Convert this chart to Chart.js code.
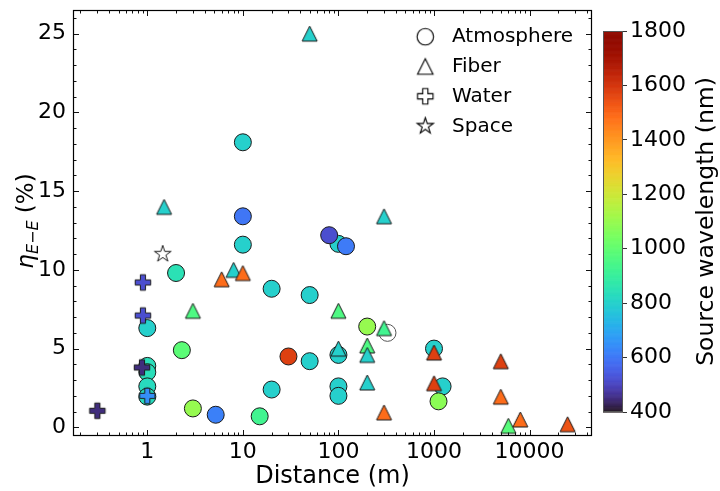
<!DOCTYPE html>
<html><head><meta charset="utf-8">
<script src="https://cdn.jsdelivr.net/npm/chart.js@4/dist/chart.umd.min.js"></script>
<style>
html,body{margin:0;padding:0;background:#fff;}
#wrap{position:relative;width:720px;height:491px;overflow:hidden;}
#main{position:absolute;left:0;top:0;}
#cbar{position:absolute;left:590px;top:0;}
</style></head><body>
<div id="wrap">
<canvas id="main" width="720" height="491"></canvas>
<canvas id="cbar" width="130" height="491"></canvas>
</div>
<script>
// ---------------- data ----------------
const atmDist = [10, 10, 10, 100, 80, 120, 2, 1, 20, 50, 2.3, 1, 1, 1, 1, 3, 5.2, 15, 20, 30, 50, 100, 100, 100, 200, 326, 1000, 1230, 1115];
const atmEff  = [18.1, 13.4, 11.6, 11.65, 12.2, 11.5, 9.8, 6.3, 8.8, 8.4, 4.9, 3.9, 3.5, 2.6, 1.95, 1.2, 0.8, 0.7, 2.4, 4.5, 4.2, 4.6, 2.6, 2.0, 6.4, 6.0, 5.0, 2.6, 1.65];
const atmWl   = [800, 600, 800, 800, 520, 610, 850, 800, 800, 800, 990, 840, 840, 830, 830, 1100, 620, 930, 800, 1580, 800, 800, 800, 800, 1100, null, 800, 800, 1080];

const fibDist = [50, 1.5, 300, 8, 6, 10, 3, 100, 300, 100, 200, 200, 200, 300, 1000, 1000, 5000, 5000, 6000, 8000, 25000];
const fibEff  = [25, 14, 13.4, 10.0, 9.4, 9.8, 7.4, 7.4, 6.3, 5.0, 5.2, 4.6, 2.85, 0.95, 4.75, 2.8, 4.2, 1.95, 0.1, 0.5, 0.2];
const fibWl   = [800, 800, 800, 800, 1490, 1490, 960, 960, 930, 800, 960, 800, 800, 1490, 1580, 1580, 1580, 1490, 980, 1490, 1540];

const watDist = [0.9, 0.9, 0.88, 1, 0.3];
const watEff  = [9.2, 7.1, 3.8, 2.0, 1.05];
const watWl   = [520, 520, 450, 650, 450];

const spaDist = [1.45];
const spaEff  = [11.0];
const spaWl   = [null];

const seriesLabels = ['Atmosphere', 'Fiber', 'Water', 'Space'];
const xTickValues = [1, 10, 100, 1000, 10000];
const xTickLabels = ['1', '10', '100', '1000', '10000'];
const yTickValues = [0, 5, 10, 15, 20, 25];
const cbarTickValues = [400, 600, 800, 1000, 1200, 1400, 1600, 1800];
const xTitle = 'Distance (m)';
const cbarTitle = 'Source wavelength (nm)';
const wlMin = 400, wlMax = 1800;
const xMin = 0.167, xMax = 45000, yMin = -0.55, yMax = 26.5;

// ---------------- helpers ----------------
const FAM = '"DejaVu Sans", "Liberation Sans", sans-serif';
function turbo(t){
  t = Math.min(1, Math.max(0, t));
  const r = 0.13572138 + t*(4.61539260 + t*(-42.66032258 + t*(132.13108234 + t*(-152.94239396 + t*59.28637943))));
  const g = 0.09140261 + t*(2.19418839 + t*(4.84296658 + t*(-14.18503333 + t*(4.27729857 + t*2.82956604))));
  const b = 0.10667330 + t*(12.64194608 + t*(-60.58204836 + t*(110.36276771 + t*(-89.90310912 + t*27.34824973))));
  const c = v => Math.round(255*Math.min(1, Math.max(0, v)));
  return 'rgb(' + c(r) + ',' + c(g) + ',' + c(b) + ')';
}
function wlColor(w){ return w == null ? 'rgba(255,255,255,0)' : turbo((w - wlMin)/(wlMax - wlMin)); }
function pts(xs, ys){ return xs.map((x, i) => ({x: x, y: ys[i]})); }

function tracePath(g, shape, cx, cy, size){
  const h = size/2;
  g.beginPath();
  if (shape === 'circle') {
    g.arc(cx, cy, h, 0, Math.PI*2);
  } else if (shape === 'triangle') {
    g.moveTo(cx, cy - h); g.lineTo(cx + h, cy + h); g.lineTo(cx - h, cy + h); g.closePath();
  } else if (shape === 'plus') {
    const a = h/3;
    const p = [[-a,-h],[a,-h],[a,-a],[h,-a],[h,a],[a,a],[a,h],[-a,h],[-a,a],[-h,a],[-h,-a],[-a,-a]];
    g.moveTo(cx + p[0][0], cy + p[0][1]);
    for (let i = 1; i < p.length; i++) g.lineTo(cx + p[i][0], cy + p[i][1]);
    g.closePath();
  } else if (shape === 'star') {
    const R = h, r = h*0.381966;
    for (let i = 0; i < 10; i++) {
      const ang = -Math.PI/2 + i*Math.PI/5;
      const rr = i % 2 === 0 ? R : r;
      const px = cx + rr*Math.cos(ang), py = cy + rr*Math.sin(ang);
      if (i === 0) g.moveTo(px, py); else g.lineTo(px, py);
    }
    g.closePath();
  }
}
const cache = {};
function marker(shape, fill, size, stroke, lw){
  stroke = stroke || '#1a1a1a'; lw = lw || 1;
  const key = [shape, fill, size, stroke, lw].join('|');
  if (cache[key]) return cache[key];
  const S = Math.ceil(size + 4);
  const c = document.createElement('canvas');
  c.width = S; c.height = S;
  const g = c.getContext('2d');
  tracePath(g, shape, S/2, S/2, size);
  g.fillStyle = fill; g.fill();
  g.lineWidth = lw; g.strokeStyle = stroke; g.lineJoin = 'miter'; g.stroke();
  cache[key] = c;
  return c;
}

// ---------------- plugins ----------------
const frameTicks = {
  id: 'frameTicks',
  afterDatasetsDraw(chart){
    const {ctx, chartArea: a, scales: {x, y}} = chart;
    ctx.save();
    ctx.strokeStyle = '#111';
    ctx.lineWidth = 1;
    ctx.beginPath();
    const majL = 6, minL = 3.5;
    const vx = (v, len) => {
      const px = Math.round(x.getPixelForValue(v)) + 0.5;
      ctx.moveTo(px, a.bottom); ctx.lineTo(px, a.bottom - len);
      ctx.moveTo(px, a.top); ctx.lineTo(px, a.top + len);
    };
    const vy = (v, len) => {
      const py = Math.round(y.getPixelForValue(v)) + 0.5;
      ctx.moveTo(a.left, py); ctx.lineTo(a.left + len, py);
      ctx.moveTo(a.right, py); ctx.lineTo(a.right - len, py);
    };
    for (let k = -1; k <= 4; k++) {
      for (let m = 1; m <= 9; m++) {
        const v = m*Math.pow(10, k);
        if (v < xMin || v > xMax) continue;
        vx(v, m === 1 ? majL : minL);
      }
    }
    for (let v = 0; v <= yMax; v++) vy(v, v % 5 === 0 ? majL : minL);
    ctx.stroke();
    ctx.lineWidth = 1.2;
    ctx.strokeStyle = '#000';
    ctx.strokeRect(a.left + 0.5, a.top + 0.5, a.right - a.left - 1, a.bottom - a.top - 1);
    ctx.restore();
  }
};

const legendShapes = ['circle', 'triangle', 'plus', 'star'];
const legendSizes = [16.5, 15.5, 15.5, 17];
const customLegend = {
  id: 'customLegend',
  afterDraw(chart){
    const ctx = chart.ctx;
    ctx.save();
    ctx.font = '20px ' + FAM;
    ctx.fillStyle = '#000';
    ctx.textBaseline = 'middle';
    ctx.textAlign = 'left';
    chart.data.datasets.forEach((ds, i) => {
      const yy = 36.7 + 29.8*i;
      const m = marker(legendShapes[i], '#fff', legendSizes[i], '#000', 1.1);
      ctx.drawImage(m, 425.3 - m.width/2, yy - m.height/2);
      ctx.fillText(ds.label, 452, yy + 0.5);
    });
    ctx.restore();
  }
};

const yTitle = {
  id: 'yTitle',
  afterDraw(chart){
    const ctx = chart.ctx;
    const fs = 23, sub = 16;
    const parts = [
      {t: 'η', f: 'italic ' + fs + 'px ' + FAM, dy: 0},
      {t: 'E', f: 'italic ' + sub + 'px ' + FAM, dy: 4.5},
      {t: '−', f: sub + 'px ' + FAM, dy: 4.5},
      {t: 'E', f: 'italic ' + sub + 'px ' + FAM, dy: 4.5},
      {t: ' (%)', f: fs + 'px ' + FAM, dy: 0}
    ];
    ctx.save();
    let total = 0;
    parts.forEach(p => { ctx.font = p.f; p.w = ctx.measureText(p.t).width; total += p.w; });
    ctx.translate(33, 221);
    ctx.rotate(-Math.PI/2);
    ctx.fillStyle = '#000';
    ctx.textBaseline = 'alphabetic';
    ctx.textAlign = 'left';
    let xx = -total/2;
    parts.forEach(p => { ctx.font = p.f; ctx.fillText(p.t, xx, p.dy); xx += p.w; });
    ctx.restore();
  }
};

// ---------------- main chart ----------------
new Chart(document.getElementById('main'), {
  type: 'scatter',
  data: {
    datasets: [
      {label: seriesLabels[0], data: pts(atmDist, atmEff), order: 4,
       pointStyle: 'circle', pointRadius: 8.5,
       backgroundColor: atmWl.map(wlColor),
       borderColor: atmWl.map(w => w == null ? '#555' : '#1a1a1a'),
       borderWidth: 1},
      {label: seriesLabels[1], data: pts(fibDist, fibEff), order: 3, pointRadius: 8,
       pointStyle: fibWl.map(w => marker('triangle', wlColor(w), 15))},
      {label: seriesLabels[2], data: pts(watDist, watEff), order: 2, pointRadius: 8,
       pointStyle: watWl.map(w => marker('plus', wlColor(w), 15.5))},
      {label: seriesLabels[3], data: pts(spaDist, spaEff), order: 1, pointRadius: 8,
       pointStyle: spaWl.map(w => marker('star', w == null ? '#fff' : wlColor(w), 17.5))}
    ]
  },
  options: {
    responsive: false, animation: false, devicePixelRatio: 1, events: [],
    layout: {padding: {left: 0, top: 10, right: 128, bottom: 0}},
    plugins: {legend: {display: false}, tooltip: {enabled: false}},
    scales: {
      x: {
        type: 'logarithmic', min: xMin, max: xMax, bounds: 'data',
        afterBuildTicks: s => { s.ticks = xTickValues.map(v => ({value: v})); },
        afterFit: s => { s.height = 55; s.paddingLeft = 0; s.paddingRight = 0; },
        ticks: {
          callback: v => { const i = xTickValues.indexOf(v); return i >= 0 ? xTickLabels[i] : ''; },
          font: {family: FAM, size: 22}, color: '#000', padding: 3, maxRotation: 0, autoSkip: false
        },
        grid: {display: false, drawTicks: false}, border: {display: false},
        title: {display: true, text: xTitle, font: {family: FAM, size: 24}, color: '#000', padding: {top: 0, bottom: 0}}
      },
      y: {
        type: 'linear', min: yMin, max: yMax, bounds: 'data',
        afterBuildTicks: s => { s.ticks = yTickValues.map(v => ({value: v})); },
        afterFit: s => { s.width = 73; s.paddingTop = 0; s.paddingBottom = 0; },
        ticks: {callback: v => String(v), font: {family: FAM, size: 22}, color: '#000', padding: 7},
        grid: {display: false, drawTicks: false}, border: {display: false}
      }
    }
  },
  plugins: [frameTicks, customLegend, yTitle]
});

// ---------------- colorbar ----------------
const cbarPlugin = {
  id: 'cbarPlugin',
  beforeDatasetsDraw(chart){
    const {ctx, chartArea: a, scales: {y}} = chart;
    ctx.save();
    for (let v = wlMin; v < wlMax; v += 2) {
      const y1 = y.getPixelForValue(v), y2 = y.getPixelForValue(v + 2);
      ctx.fillStyle = turbo((v + 1 - wlMin)/(wlMax - wlMin));
      ctx.fillRect(a.left, y2, a.right - a.left, y1 - y2 + 0.6);
    }
    ctx.strokeStyle = '#555';
    ctx.lineWidth = 1;
    ctx.strokeRect(a.left + 0.5, a.top + 0.5, a.right - a.left - 1, a.bottom - a.top - 1);
    ctx.restore();
  },
  afterDraw(chart){
    const ctx = chart.ctx;
    ctx.save();
    ctx.translate(117, 221.5);
    ctx.rotate(-Math.PI/2);
    ctx.font = '23.5px ' + FAM;
    ctx.fillStyle = '#000';
    ctx.textAlign = 'center';
    ctx.textBaseline = 'middle';
    ctx.fillText(cbarTitle, 0, 0);
    ctx.restore();
  }
};
new Chart(document.getElementById('cbar'), {
  type: 'scatter',
  data: {datasets: [{data: []}]},
  options: {
    responsive: false, animation: false, devicePixelRatio: 1, events: [],
    layout: {padding: {left: 13, top: 31, bottom: 79, right: 0}},
    plugins: {legend: {display: false}, tooltip: {enabled: false}},
    scales: {
      x: {display: false, min: 0, max: 1},
      y: {
        type: 'linear', position: 'right', min: wlMin, max: wlMax, bounds: 'data',
        afterBuildTicks: s => { s.ticks = cbarTickValues.map(v => ({value: v})); },
        afterFit: s => { s.width = 97; s.paddingTop = 0; s.paddingBottom = 0; },
        ticks: {callback: v => String(v), font: {family: FAM, size: 22}, color: '#000', padding: 3},
        grid: {drawOnChartArea: false, drawTicks: true, tickLength: 4, color: '#333'},
        border: {display: false}
      }
    }
  },
  plugins: [cbarPlugin]
});
</script>
</body></html>
